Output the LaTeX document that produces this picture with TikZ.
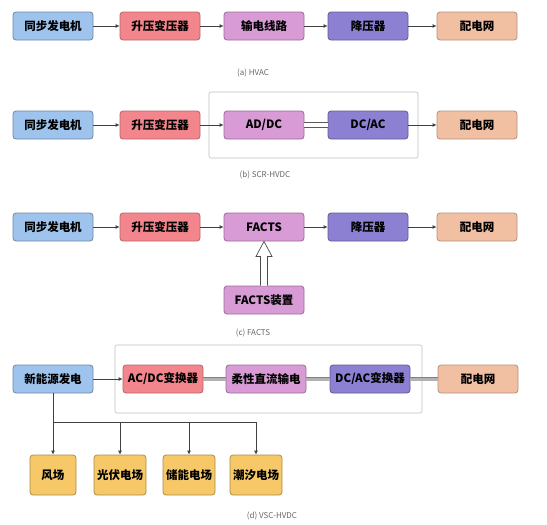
\documentclass[tikz,border=0pt]{standalone}
\usepackage{fontspec}
\setmainfont{Noto Sans CJK SC}
\usetikzlibrary{arrows.meta,calc}

\definecolor{genblue}{HTML}{9EC3EC}
\definecolor{stepred}{HTML}{F2868C}
\definecolor{lineorchid}{HTML}{D99BD6}
\definecolor{downviolet}{HTML}{8C80D2}
\definecolor{gridpeach}{HTML}{F1C0A2}
\definecolor{farmgold}{HTML}{F6C867}

\begin{document}
\begin{tikzpicture}[x=1pt, y=-1pt,
    blk/.style={rectangle, rounded corners=3pt, minimum width=80pt, minimum height=28pt,
                inner sep=1pt, line width=0.8pt, align=center, font=\fontsize{11.5}{13}\selectfont\bfseries},
    genbox/.style={blk, fill=genblue, draw=genblue!70!black},
    upbox/.style={blk, fill=stepred, draw=stepred!75!black},
    midbox/.style={blk, fill=lineorchid, draw=lineorchid!70!black},
    lowbox/.style={blk, fill=downviolet, draw=downviolet!70!black},
    gridbox/.style={blk, fill=gridpeach, draw=gridpeach!75!black},
    farmbox/.style={blk, fill=farmgold, draw=farmgold!70!black, minimum width=52pt, minimum height=40pt},
    frame/.style={draw=black!25, line width=0.6pt, rounded corners=2pt},
    captext/.style={font=\fontsize{8}{9}\selectfont, text=black!60},
    arr/.style={-{Latex[length=4pt,width=4pt]}, line width=0.8pt, draw=black!75},
    dcline/.style={draw=black!65, line width=0.7pt, double=white, double distance=4.5pt},
    vscline/.style={draw=black!50, line width=0.7pt, double=gray!60, double distance=3pt},
    hollow/.style={draw=black!70, line width=0.7pt, fill=white}
]
\useasboundingbox (0,0) rectangle (547,525);

%% (a) HVAC %%
\node[genbox]  (a1) at ( 53, 26) {同步发电机};
\node[upbox]   (a2) at (160, 26) {升压变压器};
\node[midbox]  (a3) at (264, 26) {输电线路};
\node[lowbox]  (a4) at (368, 26) {降压器};
\node[gridbox] (a5) at (477, 26) {配电网};
\node[captext] (ca) at (253, 73) {(a) HVAC};

\draw[arr] (a1) -- (a2);
\draw[arr] (a2) -- (a3);
\draw[arr] (a3) -- (a4);
\draw[arr] (a4) -- (a5);

%% (b) SCR-HVDC %%
\draw[frame] (209, 92) rectangle (418, 158);
\node[genbox]  (b1) at ( 53, 125) {同步发电机};
\node[upbox]   (b2) at (160, 125) {升压变压器};
\node[midbox]  (b3) at (264, 125) {AD/DC};
\node[lowbox]  (b4) at (368, 125) {DC/AC};
\node[gridbox] (b5) at (477, 125) {配电网};
\node[captext] (cb) at (265, 175) {(b) SCR-HVDC};

\draw[arr] (b1) -- (b2);
\draw[arr] (b2) -- (b3);
\draw[dcline] (b3) -- (b4);
\draw[arr] (b4) -- (b5);

%% (c) FACTS %%
\node[genbox]  (c1) at ( 53, 227) {同步发电机};
\node[upbox]   (c2) at (160, 227) {升压变压器};
\node[midbox]  (c3) at (264, 227) {FACTS};
\node[lowbox]  (c4) at (368, 227) {降压器};
\node[gridbox] (c5) at (477, 227) {配电网};
\node[midbox]  (c6) at (264, 300) {FACTS装置};
\node[captext] (cc) at (253, 333) {(c) FACTS};

\draw[arr] (c1) -- (c2);
\draw[arr] (c2) -- (c3);
\draw[arr] (c3) -- (c4);
\draw[arr] (c4) -- (c5);
% hollow arrow from the device up to FACTS
\draw[hollow] ($(c6.north)+(-3.5,0)$) -- ($(c3.south)+(-3.5,15)$) -- ($(c3.south)+(-8,15)$)
    -- (c3.south) -- ($(c3.south)+(8,15)$) -- ($(c3.south)+(3.5,15)$)
    -- ($(c6.north)+(3.5,0)$);

%% (d) VSC-HVDC %%
\draw[frame] (115, 345) rectangle (422, 413);
\node[genbox]  (d1) at ( 53, 379) {新能源发电};
\node[upbox]   (d2) at (163, 379) {AC/DC变换器};
\node[midbox]  (d3) at (266, 379) {柔性直流输电};
\node[lowbox]  (d4) at (370, 379) {DC/AC变换器};
\node[gridbox] (d5) at (478, 379) {配电网};

\draw[arr] (d1) -- (d2);
\draw[vscline] (d2) -- (d3);
\draw[vscline] (d3) -- (d4);
\draw[vscline] (d4) -- (d5);

% sources below
\node[farmbox, minimum width=46pt] (e1) at ( 53, 475) {风场};
\node[farmbox] (e2) at (120, 475) {光伏电场};
\node[farmbox] (e3) at (189, 475) {储能电场};
\node[farmbox] (e4) at (256, 475) {潮汐电场};
\node[captext] (cd) at (272, 516) {(d) VSC-HVDC};

\coordinate (bus) at (53, 422);
\draw[line width=0.8pt, draw=black!75] (bus) -- (bus -| e4.north);
\draw[arr] (d1) -- (e1);
\draw[arr] (bus -| e2.north) -- (e2);
\draw[arr] (bus -| e3.north) -- (e3);
\draw[arr] (bus -| e4.north) -- (e4);

\end{tikzpicture}
\end{document}
